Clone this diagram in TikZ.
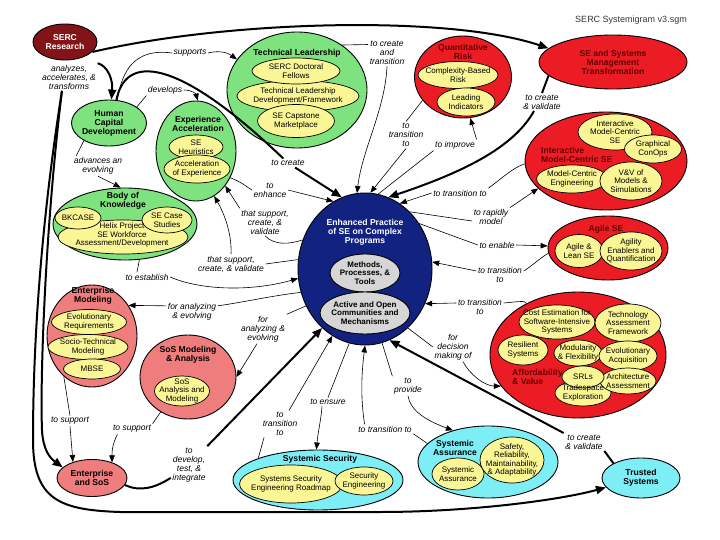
\documentclass[tikz,border=0pt]{standalone}
\usepackage{fontspec}
\setmainfont{Liberation Sans}
\usetikzlibrary{shapes.geometric,arrows.meta}
\definecolor{cgreen}{RGB}{126,226,126}
\definecolor{cyel}{RGB}{250,246,150}
\definecolor{cred}{RGB}{236,28,36}
\definecolor{csalmon}{RGB}{240,125,125}
\definecolor{ccyan}{RGB}{125,238,246}
\definecolor{cnavy}{RGB}{18,34,128}
\definecolor{cgray}{RGB}{214,214,214}
\definecolor{cmaroon}{RGB}{130,20,24}
\definecolor{ctitle}{RGB}{100,0,0}
\begin{document}
\begin{tikzpicture}[x=1pt,y=-1pt,
  shp/.style={ellipse,draw=black,line width=0.9pt,inner sep=0pt},
  inn/.style={shp,fill=cyel,line width=0.7pt},
  esz/.style 2 args={minimum width=#1pt,minimum height=#2pt},
  ttl/.style={font=\fontsize{8.6}{9}\selectfont\bfseries,align=center,inner sep=0pt},
  tts/.style={font=\fontsize{8}{8.5}\selectfont\bfseries,align=center,inner sep=0pt},
  txt/.style={font=\fontsize{8}{8.5}\selectfont,align=center,inner sep=0pt},
  lab/.style={font=\fontsize{8.5}{9}\selectfont\itshape,align=center,inner sep=1.5pt},
  thn/.style={line width=0.6pt},
  thk/.style={line width=2pt},
  ar/.style={-{Triangle[length=7pt,width=5.5pt]}},
  tar/.style={-{Triangle[length=10pt,width=8pt]}}]
\useasboundingbox (0,0) rectangle (720,540);

% ---------- containers ----------
\node[shp,fill=cmaroon,esz={64}{36}] (serc) at (65,42) {};
\node[shp,fill=cgreen,esz={140}{116}] (tl) at (297,90) {};
\node[shp,fill=cred,esz={97}{82}] (qr) at (463,77) {};
\node[shp,fill=cred,esz={148}{54}] (sesmt) at (613,62) {};
\node[shp,fill=cred,esz={162}{98}] (imc) at (606,161) {};
\node[shp,fill=cred,esz={120}{64}] (agile) at (608,248) {};
\node[shp,fill=cred,esz={176}{126}] (aff) at (578,355) {};
\node[ttl,text=ctitle,align=left,anchor=west] (affT) at (512,377) {Affordability\\\& Value};
\node[shp,fill=ccyan,esz={78}{40}] (ts) at (641,478) {};
\node[shp,fill=ccyan,esz={140}{72}] (sa) at (488,462) {};
\node[shp,fill=ccyan,esz={170}{60}] (ss) at (318,480) {};
\node[shp,fill=csalmon,esz={70}{37}] (es) at (92,478) {};
\node[shp,fill=csalmon,esz={96}{84}] (sos) at (188,377) {};
\node[shp,fill=csalmon,esz={90}{102}] (em) at (92,336) {};
\node[shp,fill=cgreen,esz={144}{72}] (bok) at (125,224) {};
\node[shp,fill=cgreen,esz={75}{46}] (hcd) at (109,123) {};
\node[shp,fill=cgreen,esz={80}{100}] (ea) at (196,151) {};
\node[shp,fill=cnavy,esz={134}{152}] (ep) at (365,269) {};

% ---------- inner ellipses ----------
\node[inn,esz={122}{31}] (tl2) at (298,96) {};
\node[inn,esz={88}{26}] (tl1) at (296,71) {};
\node[inn,esz={77}{33}] (tl3) at (296,121) {};
\node[inn,esz={80}{27}] (qr1) at (458,75) {};
\node[inn,esz={58}{28}] (qr2) at (466,102) {};
\node[inn,esz={74}{36}] (imc1) at (615,132) {};
\node[inn,esz={57}{28}] (imc2) at (653,149) {};
\node[inn,esz={71}{28}] (imc3) at (572,179) {};
\node[inn,esz={62}{38}] (imc4) at (631,181) {};
\node[inn,esz={48}{33}] (ag1) at (579,251) {};
\node[inn,esz={62}{38}] (ag2) at (631,251) {};
\node[inn,esz={56}{26}] (trade) at (583,393) {};
\node[inn,esz={76}{34}] (cost) at (557,322) {};
\node[inn,esz={66}{38}] (tech) at (628,323) {};
\node[inn,esz={50}{30}] (resil) at (523,350) {};
\node[inn,esz={48}{26}] (modul) at (578,353) {};
\node[inn,esz={58}{30}] (evol) at (628,356) {};
\node[inn,esz={56}{26}] (arch) at (628,381) {};
\node[inn,esz={42}{22}] (srl) at (583,377) {};
\node[inn,esz={52}{32}] (sa1) at (458,474) {};
\node[inn,esz={64}{46}] (sa2) at (512,460) {};
\node[inn,esz={103}{38}] (ss1) at (291,484) {};
\node[inn,esz={58}{28}] (ss2) at (364,481) {};
\node[inn,esz={55}{30}] (sos1) at (182,391) {};
\node[inn,esz={75}{25}] (em1) at (89,322) {};
\node[inn,esz={80}{25}] (em2) at (88,347) {};
\node[inn,esz={57}{20}] (em3) at (92,369) {};
\node[inn,esz={130}{34}] (bk3) at (123,237) {};
\node[inn,esz={46}{22}] (bk1) at (78,218) {};
\node[inn,esz={50}{26}] (bk2) at (167,220) {};
\node[inn,esz={54}{24}] (ea1) at (196,147) {};
\node[inn,esz={66}{28}] (ea2) at (197,169) {};
\node[shp,fill=cgray,esz={70}{38}] (ep1) at (365,273) {};
\node[shp,fill=cgray,esz={90}{42}] (ep2) at (365,313) {};

% ---------- texts ----------
\node[font=\fontsize{9}{10}\selectfont,text=black!80,inner sep=0pt] (hdr) at (631,20) {SERC Systemigram v3.sgm};
\node[ttl,text=white] (sercT) at (serc) {SERC\\Research};
\node[ttl] (tlT) at (297,53) {Technical Leadership};
\node[txt] (tl1T) at (tl1) {SERC Doctoral\\Fellows};
\node[txt] (tl2T) at (tl2) {Technical Leadership\\Development/Framework};
\node[txt] (tl3T) at (tl3) {SE Capstone\\Marketplace};
\node[ttl,text=ctitle] (qrT) at (463,52) {Quantitative\\Risk};
\node[txt] (qr1T) at (qr1) {Complexity-Based\\Risk};
\node[txt] (qr2T) at (qr2) {Leading\\Indicators};
\node[ttl,text=ctitle] (sesmtT) at (sesmt) {SE and Systems\\Management\\Transformation};
\node[ttl,text=ctitle,align=left,anchor=west] (imcT) at (541,155) {Interactive\\Model-Centric SE};
\node[txt] (imc1T) at (imc1) {Interactive\\Model-Centric\\SE};
\node[txt] (imc2T) at (imc2) {Graphical\\ConOps};
\node[txt] (imc3T) at (imc3) {Model-Centric\\Engineering};
\node[txt] (imc4T) at (imc4) {V\&V of\\Models \&\\Simulations};
\node[ttl,text=ctitle] (agileT) at (606,229) {Agile SE};
\node[txt] (ag1T) at (ag1) {Agile \&\\Lean SE};
\node[txt] (ag2T) at (ag2) {Agility\\Enablers and\\Quantification};
\node[txt] (costT) at (cost) {Cost Estimation for\\Software-Intensive\\Systems};
\node[txt] (techT) at (tech) {Technology\\Assessment\\Framework};
\node[txt] (resilT) at (resil) {Resilient\\Systems};
\node[txt] (modulT) at (modul) {Modularity\\\& Flexibility};
\node[txt] (evolT) at (evol) {Evolutionary\\Acquisition};
\node[txt] (srlT) at (srl) {SRLs};
\node[txt] (archT) at (arch) {Architecture\\Assessment};
\node[txt] (tradeT) at (trade) {Tradespace\\Exploration};
\node[ttl] (tsT) at (ts) {Trusted\\Systems};
\node[ttl] (saT) at (455,448) {Systemic\\Assurance};
\node[txt] (sa1T) at (sa1) {Systemic\\Assurance};
\node[txt] (sa2T) at (sa2) {Safety,\\Reliability,\\Maintainability,\\\& Adaptability};
\node[ttl] (ssT) at (320,459) {Systemic Security};
\node[txt] (ss1T) at (ss1) {Systems Security\\Engineering Roadmap};
\node[txt] (ss2T) at (ss2) {Security\\Engineering};
\node[ttl] (esT) at (es) {Enterprise\\and SoS};
\node[ttl] (sosT) at (188,355) {SoS Modeling\\\& Analysis};
\node[txt] (sos1T) at (sos1) {SoS\\Analysis and\\Modeling};
\node[ttl] (emT) at (93,296) {Enterprise\\Modeling};
\node[txt] (em1T) at (em1) {Evolutionary\\Requirements};
\node[txt] (em2T) at (em2) {Socio-Technical\\Modeling};
\node[txt] (em3T) at (em3) {MBSE};
\node[ttl] (bokT) at (123,201) {Body of\\Knowledge};
\node[txt] (bk1T) at (bk1) {BKCASE};
\node[txt] (bk2T) at (bk2) {SE Case\\Studies};
\node[txt] (bk3T) at (122,235) {Helix Project\\SE Workforce\\Assessment/Development};
\node[ttl] (hcdT) at (hcd) {Human\\Capital\\Development};
\node[ttl] (eaT) at (198,124) {Experience\\Acceleration};
\node[txt] (ea1T) at (ea1) {SE\\Heuristics};
\node[txt] (ea2T) at (ea2) {Acceleration\\of Experience};
\node[ttl,text=white] (epT) at (365,232) {Enhanced Practice\\of SE on Complex\\Programs};
\node[tts] (ep1T) at (ep1) {Methods,\\Processes, \&\\Tools};
\node[tts] (ep2T) at (ep2) {Active and Open\\Communities and\\Mechanisms};

% ---------- labels ----------
\node[lab] (L1) at (69,77) {analyzes,\\accelerates, \&\\transforms};
\node[lab] (L2) at (190,53) {supports};
\node[lab] (L3) at (165,90) {develops};
\node[lab] (L4) at (98,166) {advances an\\evolving};
\node[lab] (L5) at (288,163) {to create};
\node[lab] (L6) at (387,53) {to create\\and\\transition};
\node[lab] (L7) at (406,135) {to\\transition\\to};
\node[lab] (L8) at (455,145) {to improve};
\node[lab] (L9) at (542,102) {to create\\\& validate};
\node[lab] (L10) at (460,193) {to transition to};
\node[lab] (L11) at (491,217) {to rapidly\\model};
\node[lab] (L12) at (497,245) {to enable};
\node[lab] (L13) at (500,275) {to transition\\to};
\node[lab] (L14) at (480,307) {to transition\\to};
\node[lab] (L15) at (453,347) {for\\decision\\making of};
\node[lab] (L16) at (584,442) {to create\\\& validate};
\node[lab] (L17) at (408,386) {to\\provide};
\node[lab] (L18) at (385,429) {to transition to};
\node[lab] (L19) at (328,402) {to ensure};
\node[lab] (L20) at (280,424) {to\\transition\\to};
\node[lab] (L21) at (189,465) {to\\develop,\\test, \&\\integrate};
\node[lab] (L22) at (70,421) {to support};
\node[lab] (L23) at (132,429) {to support};
\node[lab] (L24) at (192,312) {for analyzing\\\& evolving};
\node[lab] (L25) at (263,329) {for\\analyzing \&\\evolving};
\node[lab] (L26) at (147,277) {to establish};
\node[lab] (L27) at (265,222) {that support,\\create, \&\\validate};
\node[lab] (L28) at (231,264) {that support,\\create, \& validate};
\node[lab] (L29) at (270,190) {to\\enhance};

% ---------- thick connectors ----------
\draw[thk,tar] (serc.-20) .. controls (230,20) and (450,15) .. (sesmt.168);
\draw[thk] (hcd.72) .. controls (125,55) and (175,55) .. (L5);
\draw[thk,tar] (L5) -- (ep.108);
\draw[thk] (sesmt.192) -- (L9.north);
\draw[thk,tar] ([xshift=-8pt]L9.south) .. controls (515,145) and (470,170) .. (ep.72);
\draw[thk,tar] (L1.north east) .. controls (108,66) and (113,80) .. (hcd.84);
\draw[thk,tar] (L1.243) .. controls (45,230) and (40,380) .. (42,430) .. controls (43,450) and (50,458) .. (es.160);
\draw[thk,tar] (L1.243) .. controls (40,230) and (33,350) .. (33,440) .. controls (33,500) and (60,510) .. (120,512) -- (380,512) .. controls (470,512) and (560,500) .. (ts.195);
\draw[thk] (es.-12) .. controls (140,492) and (155,488) .. ([yshift=6pt]L21.south west);
\draw[thk,tar] (L21.north east) -- (ep.-126);
\draw[thk] (ts.152) -- (L16.south east);
\draw[thk,tar] (L16.north west) -- (ep.-71);

% ---------- thin connectors ----------
\draw[thn] (hcd.70) .. controls (122,70) and (135,48) .. (L2.west);
\draw[thn,ar] (L2.east) .. controls (220,50) and (228,53) .. (tl.153);
\draw[thn] (hcd.30) -- (L3.south west);
\draw[thn,ar] (L3.east) .. controls (192,90) and (196,94) .. (ea.88);
\draw[thn] (hcd.215) -- ([xshift=4pt]L4.north west);
\draw[thn,ar] (L4.south) .. controls (105,180) and (112,183) .. (bok.97);
\draw[thn] (ea.-38) .. controls (242,182) and (248,188) .. (L29.west);
\draw[thn,ar] (L29.east) -- (ep.115);
\draw[thn] (ep.155) .. controls (290,244) and (275,246) .. (L27.south);
\draw[thn,ar] (L27.north west) -- (ea.-50);
\draw[thn] (ep.172) -- (L28.east);
\draw[thn,ar] (L28.north) .. controls (232,235) and (225,215) .. (ea.-68);
\draw[thn] (bok.-68) -- ([xshift=-10pt]L26.north);
\draw[thn,ar] (L26.east) .. controls (200,290) and (250,292) .. (ep.188);
\draw[thn] (ep.200) .. controls (270,296) and (245,302) .. ([yshift=-4pt]L24.north east);
\draw[thn,ar] ([yshift=-4pt]L24.north west) -- (em.40);
\draw[thn] (ep.-148) -- (L25.north east);
\draw[thn,ar] ([xshift=-6pt]L25.south) -- (sos.0);
\draw[thn] (em.-125) -- (L22.north);
\draw[thn,ar] (L22.south) -- (es.140);
\draw[thn] (sos.-128) -- (L23.north east);
\draw[thn,ar] ([xshift=6pt]L23.south west) .. controls (112,445) and (112,452) .. (es.38);
\draw[thn] (ss.160) -- ([xshift=3pt]L20.south west);
\draw[thn,ar] ([xshift=-10pt]L20.north east) -- (ep.-116);
\draw[thn] (ep.-102) -- (L19.north);
\draw[thn,ar] ([xshift=-6pt]L19.south) .. controls (321,420) and (318,432) .. (ss.93);
\draw[thn] (sa.163) -- (L18.south east);
\draw[thn,ar] ([xshift=8pt]L18.north west) .. controls (360,395) and (362,370) .. (ep.-90);
\draw[thn] (ep.-77) -- (L17.north west);
\draw[thn,ar] (L17.south) .. controls (410,410) and (425,420) .. (sa.138);
\draw[thn] (ep.-54) -- (L15.west);
\draw[thn,ar] ([xshift=10pt]L15.south) .. controls (470,375) and (485,386) .. (aff.-158);
\draw[thn] (aff.135) .. controls (526,300) and (516,302) .. ([yshift=4pt]L14.east);
\draw[thn,ar] ([yshift=4pt]L14.west) -- (ep.-30);
\draw[thn] (agile.185) .. controls (540,258) and (532,266) .. ([yshift=4pt]L13.east);
\draw[thn,ar] ([yshift=4pt]L13.west) -- (ep.6);
\draw[thn] (ep.40) -- (L12.west);
\draw[thn,ar] (L12.east) -- (agile.178);
\draw[thn] (ep.52) -- ([yshift=-4pt]L11.west);
\draw[thn,ar] (L11.north east) -- (imc.-158);
\draw[thn] (imc.182) .. controls (512,168) and (500,180) .. (L10.north east);
\draw[thn,ar] (L10.west) -- (ep.62);
\draw[thn] (qr.-150) -- (L7.north);
\draw[thn,ar] (L7.south) -- (ep.86);
\draw[thn] (tl.45) -- ([yshift=-5pt]L6.north west);
\draw[thn,ar] (L6.south) .. controls (385,110) and (362,150) .. (ep.96);
\draw[thn] (ep.80) -- (L8.south west);
\draw[thn,ar] (L8.north east) -- (qr.-80);
\end{tikzpicture}
\end{document}
